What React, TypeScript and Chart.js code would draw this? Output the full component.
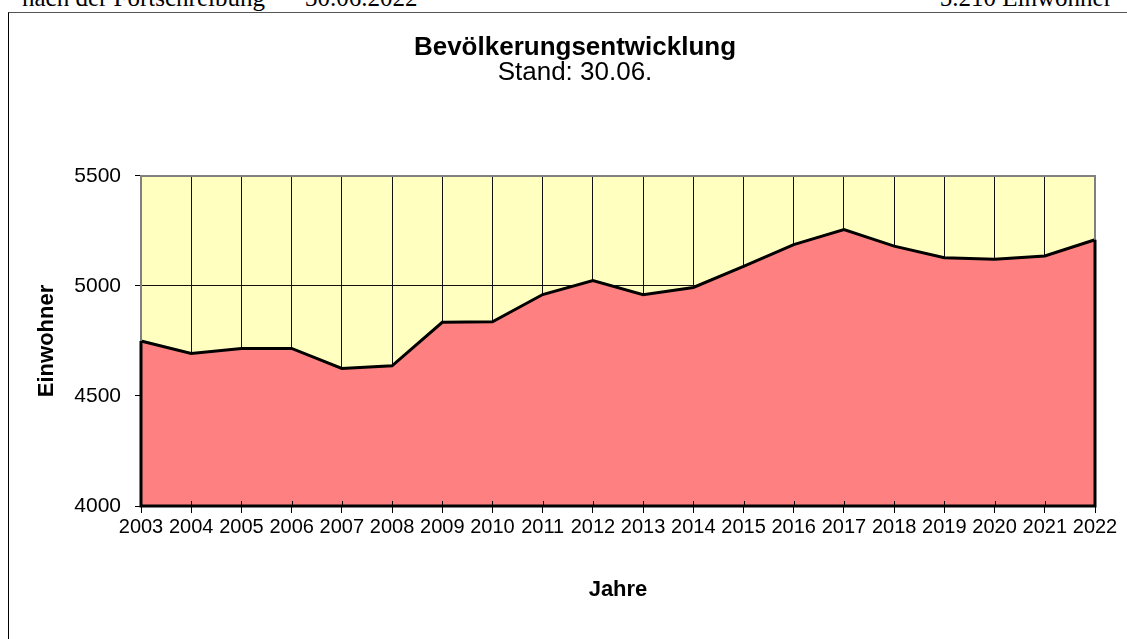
import React, { useEffect, useRef } from "react";
import { Chart, registerables } from "chart.js";

Chart.register(...registerables);

// ---- data ----
const years = [
  "2003", "2004", "2005", "2006", "2007", "2008", "2009", "2010", "2011", "2012",
  "2013", "2014", "2015", "2016", "2017", "2018", "2019", "2020", "2021", "2022",
];
const population = [
  4750, 4693, 4716, 4716, 4625, 4637, 4835, 4837, 4961, 5025,
  4960, 4993, 5089, 5188, 5256, 5181, 5128, 5121, 5136, 5210,
];
const yMin = 4000;
const yMax = 5500;
const yStep = 500;

const headerLeft = "nach der Fortschreibung";
const headerDate = "30.06.2022";
const headerRight = "5.210 Einwohner";
const chartTitle = "Bevölkerungsentwicklung";
const chartSubtitle = "Stand: 30.06.";
const yTitle = "Einwohner";
const xTitle = "Jahre";

// ---- layout constants (canvas coordinates) ----
const CANVAS_W = 1132;
const CANVAS_H = 626;
const AREA_LEFT = 132;
const AREA_RIGHT = 1086;
const AREA_BOTTOM = 493;

const SANS = "'Liberation Sans', Arial, sans-serif";

const plotFrame = {
  id: "plotFrame",
  beforeDraw(chart: any) {
    const { ctx, chartArea: a } = chart;
    ctx.save();
    ctx.fillStyle = "#FFFFC0";
    ctx.fillRect(a.left, a.top, a.right - a.left, a.bottom - a.top);
    ctx.restore();
  },
  afterDatasetsDraw(chart: any) {
    const { ctx, chartArea: a } = chart;
    const meta = chart.getDatasetMeta(0);
    const pts = meta.data;
    const first = pts[0];
    const last = pts[pts.length - 1];
    ctx.save();
    // grey frame of the plot area
    ctx.strokeStyle = "#808080";
    ctx.lineWidth = 2;
    ctx.beginPath();
    ctx.moveTo(a.left, a.bottom);
    ctx.lineTo(a.left, a.top);
    ctx.lineTo(a.right, a.top);
    ctx.lineTo(a.right, a.bottom);
    ctx.stroke();
    // inner tick marks on the x axis
    ctx.strokeStyle = "#000";
    ctx.lineWidth = 1;
    const xs = chart.scales.x;
    for (let i = 0; i < years.length; i++) {
      const px = Math.round(xs.getPixelForValue(i)) + 0.5;
      ctx.beginPath();
      ctx.moveTo(px, a.bottom - 5);
      ctx.lineTo(px, a.bottom);
      ctx.stroke();
    }
    // black outline of the area series (sides and bottom)
    ctx.strokeStyle = "#000";
    ctx.lineWidth = 3;
    ctx.lineJoin = "miter";
    ctx.beginPath();
    ctx.moveTo(first.x, first.y);
    ctx.lineTo(first.x, a.bottom);
    ctx.lineTo(last.x, a.bottom);
    ctx.lineTo(last.x, last.y);
    ctx.stroke();
    ctx.restore();
  },
};

function PopulationChart() {
  const ref = useRef<HTMLCanvasElement | null>(null);
  useEffect(() => {
    if (!ref.current) return;
    const chart = new Chart(ref.current, {
      type: "line",
      data: {
        labels: years,
        datasets: [
          {
            data: population,
            fill: "start",
            backgroundColor: "#FF8080",
            borderColor: "#000",
            borderWidth: 3,
            pointRadius: 0,
            tension: 0,
          },
        ],
      },
      options: {
        animation: false,
        responsive: false,
        maintainAspectRatio: false,
        devicePixelRatio: 1,
        layout: { padding: 0 },
        plugins: {
          legend: { display: false },
          tooltip: { enabled: false },
          title: {
            display: true,
            text: chartTitle,
            color: "#000",
            font: { family: SANS, size: 26, weight: "bold", lineHeight: 0.92 },
            padding: { top: 23, bottom: 0 },
          },
          subtitle: {
            display: true,
            text: chartSubtitle,
            color: "#000",
            font: { family: SANS, size: 26, weight: "normal", lineHeight: 1.0 },
            padding: { top: 0, bottom: 90 },
          },
        },
        scales: {
          x: {
            type: "category",
            offset: false,
            grid: {
              display: true,
              color: "#111",
              lineWidth: 1,
              tickColor: "#000",
              tickLength: 7,
              drawOnChartArea: true,
            },
            border: { display: false },
            ticks: {
              color: "#000",
              font: { family: SANS, size: 20 },
              padding: 2,
              maxRotation: 0,
              autoSkip: false,
            },
            title: {
              display: true,
              text: xTitle,
              color: "#000",
              font: { family: SANS, size: 22, weight: "bold", lineHeight: 1.2 },
              padding: { top: 0, bottom: 36 },
            },
            afterFit(scale: any) {
              scale.height = CANVAS_H - AREA_BOTTOM;
            },
          },
          y: {
            type: "linear",
            position: "left",
            min: yMin,
            max: yMax,
            grid: {
              display: true,
              color: "#111",
              lineWidth: 1,
              tickColor: "#000",
              tickLength: 6,
            },
            border: { display: false },
            ticks: {
              stepSize: yStep,
              color: "#000",
              font: { family: SANS, size: 21 },
              padding: 14,
              callback: (v: any) => String(v),
            },
            title: {
              display: true,
              text: yTitle,
              color: "#000",
              font: { family: SANS, size: 22, weight: "bold", lineHeight: 1.2 },
              padding: { top: 25, bottom: 0 },
            },
            afterFit(scale: any) {
              scale.width = AREA_LEFT;
            },
          },
          yRight: {
            type: "linear",
            position: "right",
            display: true,
            grid: { display: false },
            border: { display: false },
            ticks: { display: false },
            title: { display: false },
            afterFit(scale: any) {
              scale.width = CANVAS_W - AREA_RIGHT;
            },
          },
        },
      },
      plugins: [plotFrame],
    } as any);
    return () => chart.destroy();
  }, []);
  return (
    <canvas
      ref={ref}
      width={CANVAS_W}
      height={CANVAS_H}
      style={{ position: "absolute", left: 9, top: 13, width: CANVAS_W, height: CANVAS_H }}
    />
  );
}

export default function App() {
  const headerStyle: React.CSSProperties = {
    position: "absolute",
    top: -15.5,
    fontFamily: "'Liberation Serif', 'Times New Roman', serif",
    fontSize: 25,
    lineHeight: 1,
    whiteSpace: "nowrap",
    color: "#000",
  };
  return (
    <div
      style={{
        position: "fixed",
        left: 0,
        top: 0,
        width: 1127,
        height: 639,
        overflow: "hidden",
        background: "#fff",
      }}
    >
      <div style={{ ...headerStyle, left: 22 }}>{headerLeft}</div>
      <div style={{ ...headerStyle, left: 305 }}>{headerDate}</div>
      <div style={{ ...headerStyle, right: 15 }}>{headerRight}</div>
      <div
        style={{
          position: "absolute",
          left: 8,
          top: 12,
          width: 1400,
          height: 1000,
          borderLeft: "1px solid #000",
          borderTop: "1px solid #555",
        }}
      />
      <PopulationChart />
    </div>
  );
}
